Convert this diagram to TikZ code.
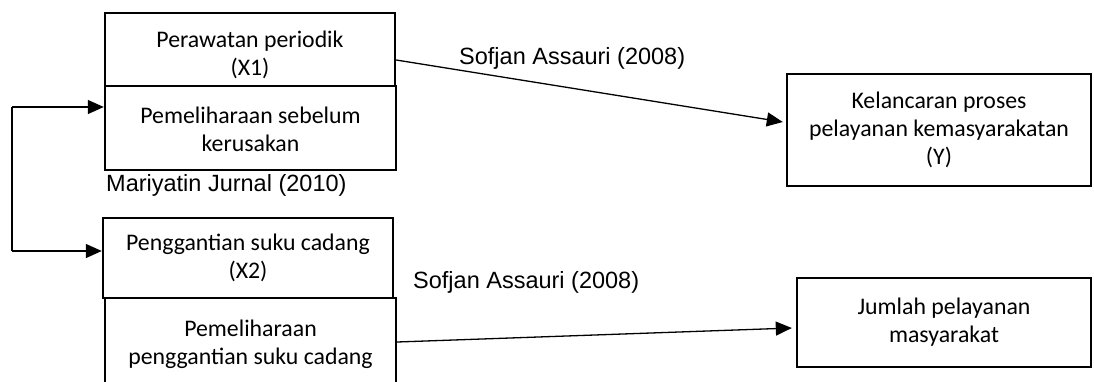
\documentclass[tikz,border=0pt]{standalone}
\usepackage{fontspec}
\setmainfont{Carlito}
\newfontfamily\arialf{Liberation Sans}
\usetikzlibrary{arrows.meta}
\begin{document}
\begin{tikzpicture}[x=1pt,y=-1pt,
  boxnode/.style={draw=black,line width=2.4pt,align=center,inner sep=0pt,
    font=\fontsize{23.8}{28}\selectfont},
  lbl/.style={font=\arialf\fontsize{23.5}{28}\selectfont,inner sep=0pt,anchor=west},
  conn/.style={line width=1.3pt,-{Triangle[length=16pt,width=14pt]}}]
\useasboundingbox (0,0) rectangle (1094,381);
\clip (0,0) rectangle (1094,381);
\node[boxnode,minimum width=290pt,minimum height=73pt] (box1) at (250,49.5) {\rule{0pt}{28pt}Perawatan periodik\\(X1)};
\node[boxnode,minimum width=291pt,minimum height=84pt] (box2) at (250.5,128) {\strut Pemeliharaan sebelum\\kerusakan};
\node[boxnode,minimum width=290pt,minimum height=80pt] (box3) at (248,258) {Penggantian suku cadang\\(X2)};
\node[boxnode,minimum width=291pt,minimum height=92pt] (box4) at (250.5,344) {Pemeliharaan\\penggantian suku cadang};
\node[boxnode,minimum width=304pt,minimum height=112pt] (Y) at (939,130) {Kelancaran proses\\pelayanan kemasyarakatan\\(Y)};
\node[boxnode,minimum width=294pt,minimum height=89pt] (J) at (944,322.5) {Jumlah pelayanan\\masyarakat};
\node[lbl] (l1) at (459,58) {Sofjan Assauri (2008)};
\node[lbl] (l2) at (413,282) {Sofjan Assauri (2008)};
\node[lbl] (l3) at (106,185) {Mariyatin Jurnal (2010)};
\coordinate (c1) at (12,107);
\coordinate (c2) at (12,251);
\draw[line width=1.3pt] (c1) -- (c2);
\draw[conn] (c1) -- ([yshift=21pt]box2.west);
\draw[conn] (c2) -- ([yshift=7pt]box3.west);
\draw[conn] ([yshift=-10.5pt]box1.east) -- ([yshift=8pt,xshift=-3pt]Y.west);
\draw[conn] ([yshift=2pt]box4.east) -- ([yshift=-5.5pt,xshift=-4pt]J.west);
\end{tikzpicture}
\end{document}
